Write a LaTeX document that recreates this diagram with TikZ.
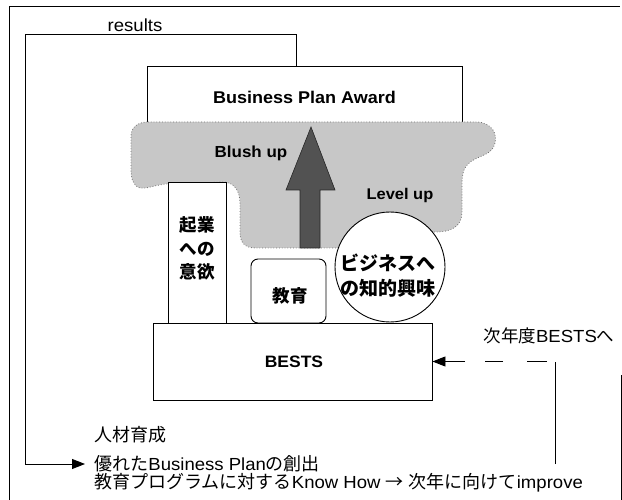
\documentclass[tikz,border=0pt]{standalone}
\usepackage{fontspec}
\setmainfont{Liberation Sans}[FakeStretch=1.06]
\newfontfamily\cjk{Noto Sans CJK JP}
\usetikzlibrary{arrows.meta}
\newcommand\jp[1]{{\cjk #1}}
\begin{document}
\begin{tikzpicture}[x=1pt,y=-1pt,line width=0.9pt,
  box/.style={draw,fill=white,inner sep=0pt},
  arr/.style={-{Triangle[length=13pt,width=10pt]}},
  lbl/.style={inner sep=0pt,font=\bfseries\fontsize{17}{20}\selectfont},
  jlbl/.style={inner sep=0pt,align=center,font=\cjk\bfseries\fontsize{17.5}{23.5}\selectfont},
  txt/.style={inner sep=0pt,font=\fontsize{17.5}{20}\selectfont},
  cloudy/.style={fill=black!22,draw=black!55,dotted,line width=0.8pt},
  bigarrow/.style={fill=black!68,draw=black!85,line width=0.6pt}]
\useasboundingbox (0,0) rectangle (622,500);

% outer frame
\draw[line width=0.8pt] (621,375) -- (621,505);
\draw[line width=0.8pt] (9,505) -- (9,6) -- (620,6);

% award box
\node[box,minimum width=315pt,minimum height=62pt] (bpa) at (304.5,97) {};

% cloud
\path[cloudy] (148,122) -- (476,122)
  .. controls (492,122) and (499,135) .. (494,146)
  .. controls (490,156) and (476,156) .. (468,164)
  .. controls (462,170) and (462,178) .. (462,188)
  -- (462,212)
  .. controls (462,226) and (452,232) .. (436,232)
  -- (420,232) -- (350,248) -- (256,248)
  .. controls (244,248) and (240,242) .. (240,232)
  -- (240,204)
  .. controls (240,190) and (234,183) .. (224,182)
  -- (165,184)
  .. controls (152,186) and (146,189) .. (140,188)
  .. controls (133,186) and (131,178) .. (131,170)
  -- (131,136)
  .. controls (131,127) and (138,122) .. (148,122) -- cycle;

% big arrow
\draw[bigarrow] (300,248) -- (300,190) -- (286,190) -- (311,127) -- (335,190) -- (320,190) -- (320,248) -- cycle;

\node[lbl] (bpatext) at (bpa) {Business Plan Award};
\node[lbl,font=\bfseries\fontsize{16}{20}\selectfont] (blush) at (251,153) {Blush up};
\node[lbl,font=\bfseries\fontsize{15.5}{20}\selectfont] (level) at (400,195) {Level up};

% pillars
\node[box,minimum width=58pt,minimum height=141pt] (kigyo) at (197,252.5) {};
\node[jlbl] (kigyotext) at (197,248.5) {起業\\への\\意欲};
\node[box,rounded corners=7pt,minimum width=75pt,minimum height=64pt] (kyoiku) at (288.5,291) {};
\node[jlbl] (kyoikutext) at (290,296) {教育};
\node[box,circle,minimum size=110pt] (interest) at (390,267) {};
\node[jlbl,font=\cjk\bfseries\fontsize{19}{25}\selectfont] (interesttext) at (388,275.5) {ビジネスへ\\の知的興味};

% BESTS
\node[box,minimum width=279pt,minimum height=77pt] (bests) at (292.5,361.5) {};
\node[lbl,font=\bfseries\fontsize{16.5}{20}\selectfont] (beststext) at (294,362) {BESTS};

% texts
\node[txt,anchor=base] (results) at (135,32) {results};
\node[txt] (next) at (549,336) {\jp{次年度}BESTS\jp{へ}};
\node[txt,anchor=west] (t1) at (94,435) {\jp{\fontsize{18}{20}\selectfont 人材育成}};
\node[txt,anchor=west,inner xsep=9pt] (t2) at (85,464) {\jp{\fontsize{18}{20}\selectfont 優れた}Business Plan\jp{\fontsize{18}{20}\selectfont の創出}};
\node[txt,anchor=west] (t3) at (94,483) {\jp{\fontsize{18}{20}\selectfont 教育プログラムに対する}Know How \jp{\fontsize{18}{20}\selectfont →} \jp{\fontsize{18}{20}\selectfont 次年に向けて}improve};

% connectors
\coordinate (rs) at (296,66);
\coordinate (loopTL) at (25,34);
\coordinate (vb) at (555,464);
\coordinate (vt) at (555,361.5);
\draw[arr] (rs) |- (loopTL) |- (t2.west);
\draw (vb) -- (vt);
\draw[arr,dash pattern=on 0pt off 8pt on 20pt off 24pt on 18pt off 20pt on 60pt] (vt) -- (bests.east);
\end{tikzpicture}
\end{document}
